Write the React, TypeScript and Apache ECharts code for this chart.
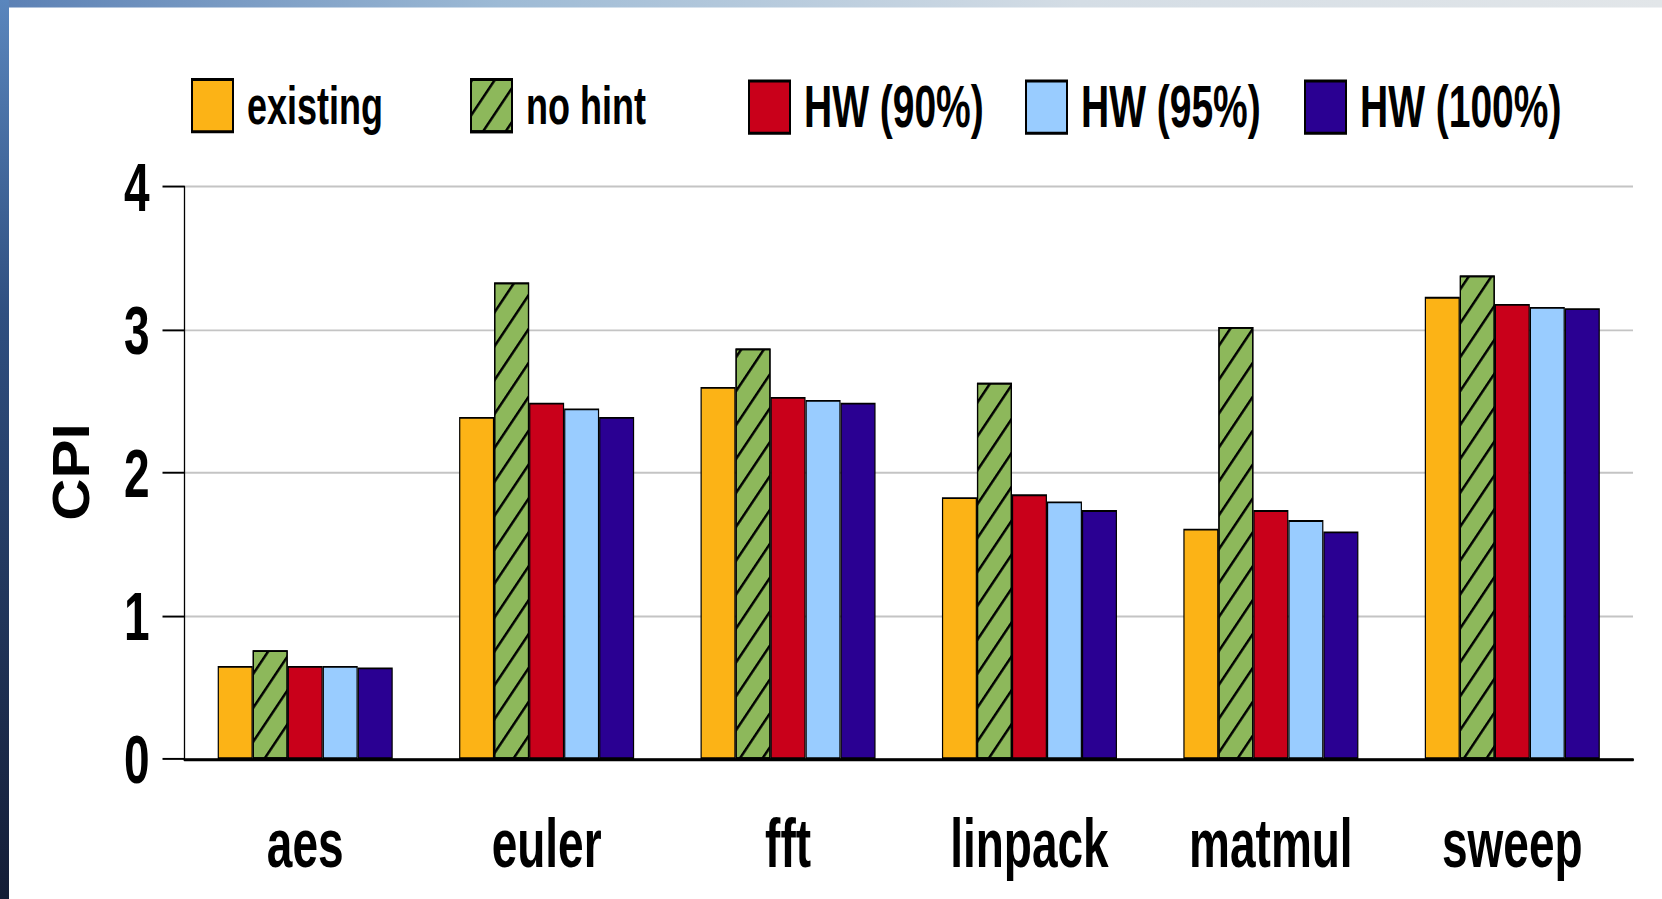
import React, { useEffect, useRef } from "react";
import * as echarts from "echarts";

// Benchmarks and CPI values per configuration
const categories = ["aes", "euler", "fft", "linpack", "matmul", "sweep"];
const existing = [0.65, 2.39, 2.6, 1.83, 1.61, 3.23];
const noHint = [0.76, 3.33, 2.87, 2.63, 3.02, 3.38];
const hw90 = [0.65, 2.49, 2.53, 1.85, 1.74, 3.18];
const hw95 = [0.65, 2.45, 2.51, 1.8, 1.67, 3.16];
const hw100 = [0.64, 2.39, 2.49, 1.74, 1.59, 3.15];
const seriesNames = ["existing", "no hint", "HW (90%)", "HW (95%)", "HW (100%)"];
const yTicks = [0, 1, 2, 3, 4];

const W = 1662;
const H = 600;
const STRETCH = 899 / H; // the drawing is stretched vertically

const FONT = "'Liberation Sans', Arial, Helvetica, sans-serif";

export default function App() {
  const ref = useRef<HTMLDivElement>(null);

  useEffect(() => {
    if (!ref.current) return;
    const chart = echarts.init(ref.current, undefined, { renderer: "svg" });

    const colors = ["#FCB316", "#8DB85B", "#C9001A", "#99CCFF", "#2A0092"];
    const values = [existing, noHint, hw90, hw95, hw100];
    const legendLeft = [191, 470, 748, 1025, 1304];
    const legendFont = [36, 36, 39, 39, 39];

    const series = values.map((vals, i) => ({
      name: seriesNames[i],
      type: "bar",
      data: vals,
      barGap: "0%",
      barCategoryGap: "27.5%",
      itemStyle: {
        color: colors[i],
        borderColor: "#000",
        borderWidth: 1.2,
        ...(i === 1
          ? {
              decal: {
                symbol: "rect",
                symbolSize: 1,
                color: "#000",
                dashArrayX: [1, 0],
                dashArrayY: [1.2, 14],
                rotation: -Math.PI / 4,
              },
            }
          : {}),
      },
    }));

    chart.setOption({
      animation: false,
      backgroundColor: "#fff",
      textStyle: { fontFamily: FONT },
      legend: seriesNames.map((name, i) => ({
        data: [name],
        left: legendLeft[i],
        top: 52,
        itemWidth: 41,
        itemHeight: 35,
        padding: 0,
        selectedMode: false,
        icon: "rect",
        textStyle: {
          fontFamily: FONT,
          fontSize: legendFont[i],
          fontWeight: "bold",
          color: "#000",
          padding: [0, 0, 0, 9],
        },
      })),
      grid: {
        left: 184.5,
        right: 29,
        top: 124.6,
        bottom: 93.4,
        outerBoundsMode: "none",
      },
      xAxis: {
        type: "category",
        data: categories,
        axisLine: { lineStyle: { color: "#000", width: 2 } },
        axisTick: { length: 16.7, lineStyle: { color: "#000", width: 1.2 } },
        axisLabel: {
          fontFamily: FONT,
          fontSize: 46,
          fontWeight: "bold",
          color: "#000",
          margin: 33,
        },
      },
      yAxis: {
        type: "value",
        min: yTicks[0],
        max: yTicks[yTicks.length - 1],
        interval: 1,
        axisLine: { show: true, lineStyle: { color: "#000", width: 1.3 } },
        axisTick: { show: true, length: 22, lineStyle: { color: "#000", width: 1.3 } },
        axisLabel: {
          fontFamily: FONT,
          fontSize: 46,
          fontWeight: "bold",
          color: "#000",
          margin: 35,
        },
        splitLine: { lineStyle: { color: "#c4c4c4", width: 1.3 } },
      },
      graphic: [
        {
          type: "rect",
          silent: true,
          shape: { x: 0, y: 0, width: W, height: 5 },
          style: {
            fill: new echarts.graphic.LinearGradient(0, 0, 1, 0, [
              { offset: 0, color: "#5b80b4" },
              { offset: 0.3, color: "#9dbad5" },
              { offset: 0.65, color: "#d4dde5" },
              { offset: 1, color: "#e2e6e9" },
            ]),
          },
        },
        {
          type: "rect",
          silent: true,
          shape: { x: 0, y: 0, width: 9, height: H },
          style: {
            fill: new echarts.graphic.LinearGradient(0, 0, 0, 1, [
              { offset: 0, color: "#5a86bd" },
              { offset: 0.35, color: "#2f4f80" },
              { offset: 1, color: "#141d36" },
            ]),
          },
        },
        {
          type: "text",
          x: 71,
          y: 315,
          rotation: Math.PI / 2,
          scaleX: 0.75,
          style: {
            text: "CPI",
            font: `bold 52px ${FONT}`,
            fill: "#000",
            align: "center",
            verticalAlign: "middle",
          },
        },
      ],
      series,
    });

    return () => chart.dispose();
  }, []);

  return (
    <div
      style={{
        position: "absolute",
        left: 0,
        top: 0,
        width: W,
        height: H,
        transform: `scaleY(${STRETCH})`,
        transformOrigin: "0 0",
      }}
    >
      <div ref={ref} style={{ width: W, height: H }} />
    </div>
  );
}
